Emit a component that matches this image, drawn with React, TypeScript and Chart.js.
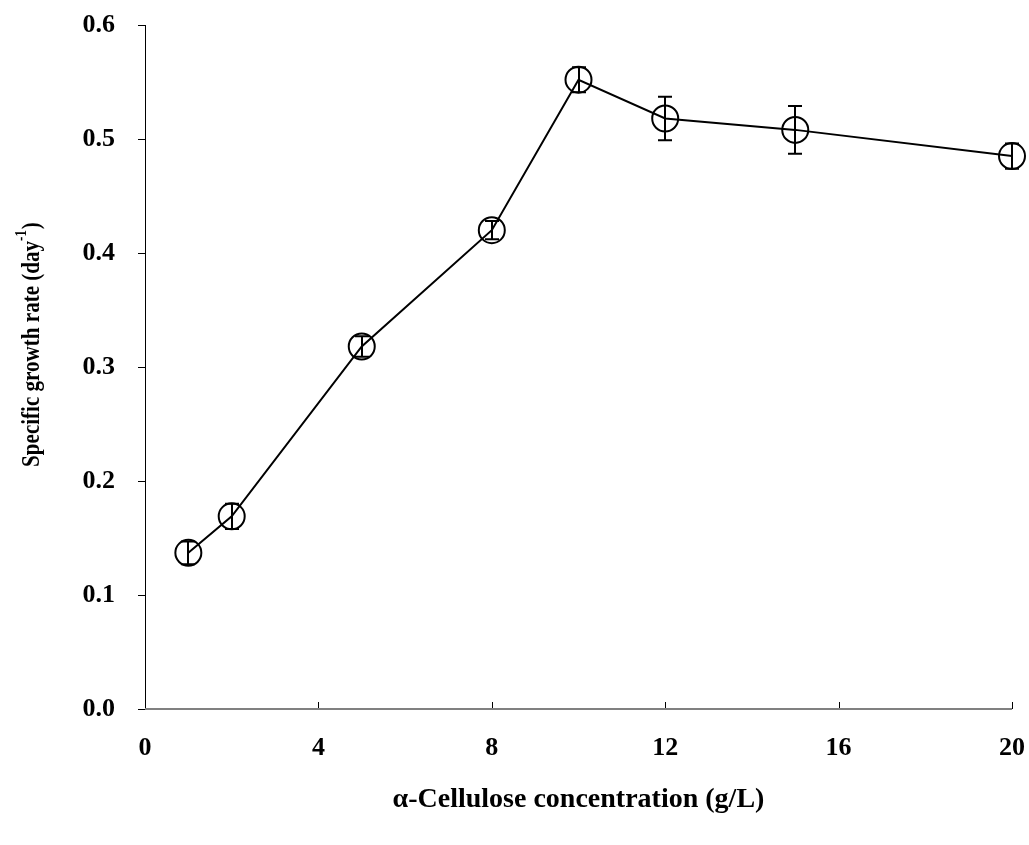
import React, { useEffect, useRef } from "react";
import { Chart, registerables } from "chart.js";

Chart.register(...registerables);

const concentrations = [1, 2, 5, 8, 10, 12, 15, 20];
const growthRates = [0.137, 0.169, 0.318, 0.420, 0.552, 0.518, 0.508, 0.485];
const errors = [0.010, 0.011, 0.009, 0.008, 0.011, 0.019, 0.021, 0.011];
const xTicks = [0, 4, 8, 12, 16, 20];
const yTicks = [0, 0.1, 0.2, 0.3, 0.4, 0.5, 0.6];

const xTitle = "α-Cellulose concentration (g/L)";
const yTitleMain = "Specific growth rate (day";
const yTitleSup = "-1";
const yTitleEnd = ")";

const FONT = "'Liberation Serif', 'Times New Roman', serif";

const decorPlugin = {
  id: "decor",
  beforeDatasetsDraw(chart: any) {
    const { ctx, chartArea, scales } = chart;
    const xs = scales.x;
    const ys = scales.y;
    ctx.save();
    ctx.strokeStyle = "#000";
    ctx.lineWidth = 1;
    ctx.beginPath();
    ctx.moveTo(chartArea.left + 0.5, chartArea.top);
    ctx.lineTo(chartArea.left + 0.5, chartArea.bottom);
    ctx.stroke();
    for (const t of yTicks) {
      const py = Math.round(ys.getPixelForValue(t)) + 0.5;
      ctx.beginPath();
      ctx.moveTo(chartArea.left - 7, py);
      ctx.lineTo(chartArea.left + 0.5, py);
      ctx.stroke();
    }
    for (const t of xTicks) {
      if (t === 0) continue;
      const px = Math.round(xs.getPixelForValue(t)) + 0.5;
      ctx.beginPath();
      ctx.moveTo(px, chartArea.bottom);
      ctx.lineTo(px, chartArea.bottom - 7);
      ctx.stroke();
    }
    ctx.strokeStyle = "#808080";
    ctx.lineWidth = 2;
    ctx.beginPath();
    ctx.moveTo(chartArea.left, chartArea.bottom);
    ctx.lineTo(chartArea.right, chartArea.bottom);
    ctx.stroke();
    ctx.restore();
  },
  afterDatasetsDraw(chart: any) {
    const { ctx, scales, chartArea } = chart;
    const xs = scales.x;
    const ys = scales.y;
    ctx.save();
    ctx.strokeStyle = "#000";
    ctx.lineWidth = 2;
    concentrations.forEach((c, i) => {
      const px = Math.round(xs.getPixelForValue(c));
      const top = ys.getPixelForValue(growthRates[i] + errors[i]);
      const bot = ys.getPixelForValue(growthRates[i] - errors[i]);
      ctx.beginPath();
      ctx.moveTo(px, top);
      ctx.lineTo(px, bot);
      ctx.moveTo(px - 7, top);
      ctx.lineTo(px + 7, top);
      ctx.moveTo(px - 7, bot);
      ctx.lineTo(px + 7, bot);
      ctx.stroke();
    });
    ctx.fillStyle = "#000";
    ctx.textAlign = "center";
    ctx.textBaseline = "middle";
    ctx.save();
    ctx.translate((chartArea.left + chartArea.right) / 2, 800);
    ctx.font = `bold 28px ${FONT}`;
    ctx.fillText(xTitle, 0, 0);
    ctx.restore();

    ctx.translate(30, (chartArea.top + chartArea.bottom) / 2 - 22);
    ctx.rotate(-Math.PI / 2);
    ctx.scale(0.81, 1);
    const mainFont = `bold 26px ${FONT}`;
    const supFont = `bold 16px ${FONT}`;
    ctx.font = mainFont;
    const w1 = ctx.measureText(yTitleMain).width;
    const w3 = ctx.measureText(yTitleEnd).width;
    ctx.font = supFont;
    const w2 = ctx.measureText(yTitleSup).width;
    const total = w1 + w2 + w3;
    const x0 = -total / 2;
    ctx.textAlign = "left";
    ctx.textBaseline = "alphabetic";
    ctx.font = mainFont;
    ctx.fillText(yTitleMain, x0, 9);
    ctx.font = supFont;
    ctx.fillText(yTitleSup, x0 + w1, -4);
    ctx.font = mainFont;
    ctx.fillText(yTitleEnd, x0 + w1 + w2 + 1, 9);
    ctx.restore();
  },
};

export default function App() {
  const canvasRef = useRef<HTMLCanvasElement | null>(null);

  useEffect(() => {
    document.body.style.margin = "0";
    const canvas = canvasRef.current;
    if (!canvas) return;
    const chart = new Chart(canvas, {
      type: "line",
      data: {
        datasets: [
          {
            data: concentrations.map((c, i) => ({ x: c, y: growthRates[i] })),
            borderColor: "#000",
            borderWidth: 2,
            backgroundColor: "rgba(0,0,0,0)",
            pointRadius: 13,
            pointBorderWidth: 2,
            pointBorderColor: "#000",
            pointBackgroundColor: "rgba(0,0,0,0)",
            pointStyle: "circle",
            tension: 0,
            clip: false,
          },
        ],
      },
      options: {
        animation: false,
        responsive: false,
        devicePixelRatio: 1,
        layout: { autoPadding: false, padding: { top: 25, right: 17, left: 0, bottom: 0 } },
        plugins: {
          legend: { display: false },
          tooltip: { enabled: false },
        },
        scales: {
          x: {
            type: "linear",
            min: 0,
            max: 20,
            grid: { display: false, drawTicks: false },
            border: { display: false },
            afterBuildTicks: (scale: any) => {
              scale.ticks = xTicks.map((v) => ({ value: v }));
            },
            ticks: {
              color: "#000",
              padding: 24,
              maxRotation: 0,
              autoSkip: false,
              font: { family: FONT, size: 26, weight: "bold" },
              callback: (v: any) => String(v),
            },
            afterFit: (scale: any) => {
              scale.height = 136;
              scale.paddingLeft = 0;
              scale.paddingRight = 0;
              scale.paddingTop = 0;
              scale.paddingBottom = 0;
            },
          },
          y: {
            type: "linear",
            min: 0,
            max: 0.6,
            grid: { display: false, drawTicks: false },
            border: { display: false },
            afterBuildTicks: (scale: any) => {
              scale.ticks = yTicks.map((v) => ({ value: v }));
            },
            ticks: {
              color: "#000",
              padding: 30,
              autoSkip: false,
              font: { family: FONT, size: 26, weight: "bold" },
              callback: (v: any) => Number(v).toFixed(1),
            },
            afterFit: (scale: any) => {
              scale.width = 145;
              scale.paddingLeft = 0;
              scale.paddingRight = 0;
              scale.paddingTop = 0;
              scale.paddingBottom = 0;
            },
          },
        },
      },
      plugins: [decorPlugin],
    } as any);
    return () => chart.destroy();
  }, []);

  return (
    <div>
      <canvas
        ref={canvasRef}
        width={1029}
        height={845}
        style={{ display: "block", width: "1029px", height: "845px" }}
      />
    </div>
  );
}
